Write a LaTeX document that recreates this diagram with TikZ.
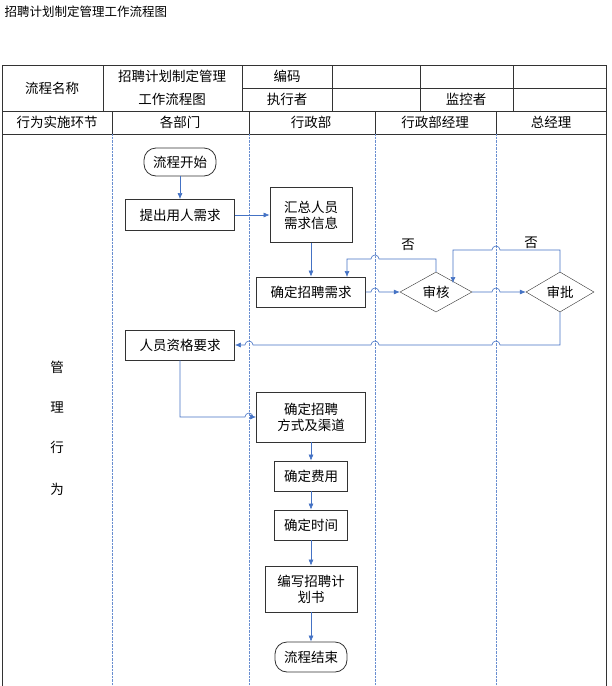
\documentclass[tikz,border=0pt]{standalone}
\usepackage{fontspec}
\setmainfont{Noto Sans CJK SC}
\usetikzlibrary{shapes.geometric,arrows.meta}
\begin{document}
\begin{tikzpicture}[x=1pt,y=-1pt,
  font=\fontsize{13.5}{16}\selectfont,
  box/.style={draw=black!80, thick, fill=white, align=center, inner sep=2pt},
  term/.style={box, rounded corners=12pt, minimum height=28pt},
  dec/.style={draw=black!80, diamond, aspect=1.8, fill=white, inner sep=1pt, minimum width=72pt, minimum height=40pt},
  flow/.style={draw=arrowblue, semithick, -{Latex[length=6pt,width=5pt]}},
  lane/.style={draw=arrowblue!80, densely dotted}]
  \definecolor{arrowblue}{RGB}{68,114,196}
  \useasboundingbox (0,0) rectangle (612,686);

  % Title
  \node[anchor=west, font=\fontsize{12.5}{15}\selectfont] (title) at (1,12) {招聘计划制定管理工作流程图};

  % Header table
  \draw[black!80] (2,65) rectangle (606,690);
  \draw[black!80] (2,111) -- (606,111) (2,134) -- (606,134);
  \draw[black!80] (242,88) -- (606,88);
  \foreach \x in {103,242,332,420,513} \draw[black!80] (\x,65) -- (\x,111);
  \foreach \x in {112,249,375,496} \draw[black!80] (\x,111) -- (\x,134);
  \node (name) at (52,88) {流程名称};
  \node (proc1) at (172,76) {招聘计划制定管理};
  \node (proc2) at (172,99) {工作流程图};
  \node (code) at (287,76) {编码};
  \node (exec) at (287,99) {执行者};
  \node (mon) at (466,99) {监控者};
  \node (h0) at (57,122) {行为实施环节};
  \node (h1) at (180,122) {各部门};
  \node (h2) at (311,122) {行政部};
  \node (h3) at (435,122) {行政部经理};
  \node (h4) at (551,122) {总经理};

  % Swim lanes
  \foreach \x in {112,249,375,496} \draw[lane] (\x,134) -- (\x,686);
  \node (m1) at (57,367) {管};
  \node (m2) at (57,407) {理};
  \node (m3) at (57,447) {行};
  \node (m4) at (57,489) {为};

  % Nodes
  \node[term, minimum width=72pt] (start) at (180,162) {流程开始};
  \node[box, minimum width=109pt, minimum height=31pt] (need) at (180,215) {提出用人需求};
  \node[box, minimum width=82pt, minimum height=55pt] (sum) at (311,215) {汇总人员\\需求信息};
  \node[box, minimum width=109pt, minimum height=30pt] (fix) at (311,292) {确定招聘需求};
  \node[dec] (check) at (436,292) {审核};
  \node[dec, minimum width=68pt] (appr) at (560,292) {审批};
  \node[box, minimum width=109pt, minimum height=30pt] (qual) at (180,345) {人员资格要求};
  \node[box, minimum width=109pt, minimum height=50pt] (way) at (311,417) {确定招聘\\方式及渠道};
  \node[box, minimum width=73pt, minimum height=30pt] (cost) at (311,476) {确定费用};
  \node[box, minimum width=73pt, minimum height=30pt] (time) at (311,525) {确定时间};
  \node[box, minimum width=92pt, minimum height=46pt] (plan) at (311,589) {编写招聘计\\划书};
  \node[term, minimum width=72pt, minimum height=30pt] (end) at (311,657) {流程结束};

  % Connectors
  \draw[flow] (start) -- (need);
  \draw[flow] (need) -- (sum);
  \draw[flow] (sum) -- (fix);
  \draw[flow] (fix.east) -- (371,292) arc(180:360:4) -- (check.west);
  \draw[flow] (check.east) -- (492,292) arc(180:360:4) -- (appr.west);
  \draw[flow] (check.north) -- (436,259) -- (379,259) arc(0:-180:4) -- (347,259) -- (347,277);
  \node (no1) at (408,245) {否};
  \draw[flow] (appr.north) -- (560,250) -- (500,250) arc(0:-180:4) -- (453,250) -- (453,283);
  \node (no2) at (531,243) {否};
  \draw[flow] (appr.south) -- (560,345) -- (500,345) arc(0:-180:4) -- (379,345) arc(0:-180:4)
    -- (253,345) arc(0:-180:4) -- (qual.east);
  \draw[flow] (qual.south) -- (180,417) -- (245,417) arc(180:360:4) -- (way.west);
  \draw[flow] (way) -- (cost);
  \draw[flow] (cost) -- (time);
  \draw[flow] (time) -- (plan);
  \draw[flow] (plan) -- (end);
\end{tikzpicture}
\end{document}
